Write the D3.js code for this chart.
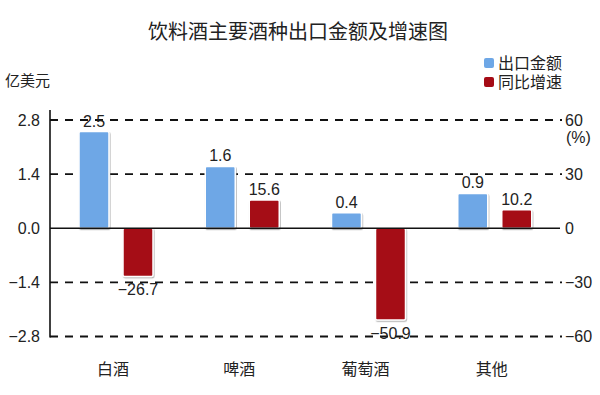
<!DOCTYPE html>
<html>
<head>
<meta charset="utf-8">
<script src="https://cdn.jsdelivr.net/npm/d3@7"></script>
<style>
  body { margin: 0; background: #fff; }
  svg text { font-family: "Liberation Sans", "Noto Sans CJK SC", sans-serif; fill: #222; }
</style>
</head>
<body>
<div id="chart"></div>
<script>
// data
const categories = ["白酒", "啤酒", "葡萄酒", "其他"];
const exportValue = [2.5, 1.6, 0.4, 0.9];      // 亿美元
const growthRate = [-26.7, 15.6, -50.9, 10.2]; // %
const leftTicks = [2.8, 1.4, 0.0, -1.4, -2.8];
const rightTicks = [60, 30, 0, -30, -60];
const seriesNames = ["出口金额", "同比增速"];

const width = 600;
const height = 395;
const margin = {left: 50, right: 45, top: 120, bottom: 58};
const blue = "#6ea7e6";
const red = "#a50b16";

const svg = d3.select("#chart")
  .append("svg")
  .attr("width", width)
  .attr("height", height);

// shadow round the bars
const defs = svg.append("defs");
const f = defs.append("filter").attr("id", "shadow")
  .attr("x", "-20%").attr("y", "-20%").attr("width", "140%").attr("height", "140%");
f.append("feDropShadow")
  .attr("dx", 0.8).attr("dy", 1.2).attr("stdDeviation", 0.7)
  .attr("flood-color", "#888").attr("flood-opacity", 0.6);

// scales
let xScale = d3.scaleBand()
  .domain(categories)
  .range([margin.left, width - margin.right])
  .padding(0);

let yLeft = d3.scaleLinear()
  .domain([-2.8, 2.8])
  .range([height - margin.bottom - 0.5, margin.top]);

let yRight = d3.scaleLinear()
  .domain([-60, 60])
  .range([height - margin.bottom - 0.5, margin.top]);

// title
svg.append("text")
  .attr("x", 298).attr("y", 39)
  .attr("text-anchor", "middle")
  .attr("font-size", "20px")
  .text("饮料酒主要酒种出口金额及增速图");

svg.append("text")
  .attr("x", 5).attr("y", 86)
  .attr("font-size", "15px")
  .text("亿美元");

// legend
const legend = svg.append("g");
[blue, red].forEach((c, i) => {
  legend.append("rect")
    .attr("x", 484).attr("y", 58 + i * 19)
    .attr("width", 10).attr("height", 10).attr("rx", 2)
    .attr("fill", c);
  legend.append("text")
    .attr("x", 498).attr("y", 69 + i * 19)
    .attr("font-size", "16px")
    .text(seriesNames[i]);
});

// gridlines
svg.append("g")
  .selectAll("line")
  .data(leftTicks.filter(d => d !== 0))
  .enter()
  .append("line")
    .attr("x1", margin.left).attr("x2", 562)
    .attr("y1", d => yLeft(d)).attr("y2", d => yLeft(d))
    .attr("stroke", "#111")
    .attr("stroke-width", 1.8)
    .attr("stroke-dasharray", "8,7");

// left axis
const leftAxis = svg.append("g")
  .attr("transform", `translate(${margin.left},0)`)
  .call(d3.axisLeft(yLeft).tickValues(leftTicks).tickSize(0).tickPadding(10)
    .tickFormat(d3.format(".1f")));
leftAxis.select(".domain").remove();
leftAxis.selectAll("text")
  .attr("font-size", "16px")
  .attr("fill", "#222")
  .text(d => d3.format(".1f")(d).replace("-", "−"));
svg.append("line")
  .attr("x1", margin.left).attr("x2", margin.left)
  .attr("y1", 110).attr("y2", yLeft(-2.8) + 1)
  .attr("stroke", "#111").attr("stroke-width", 1.6);

// right axis
const rightAxis = svg.append("g")
  .attr("transform", `translate(565,0)`)
  .call(d3.axisRight(yRight).tickValues(rightTicks).tickSize(0).tickPadding(0));
rightAxis.select(".domain").remove();
rightAxis.selectAll("text")
  .attr("font-size", "16px")
  .attr("fill", "#222")
  .text(d => String(d).replace("-", "−"));
svg.append("text")
  .attr("x", 566).attr("y", yRight(60) + 23)
  .attr("font-size", "16px")
  .text("(%)");

// bars
const blueBars = svg.append("g");
blueBars.selectAll("rect")
  .data(exportValue)
  .enter()
  .append("rect")
    .attr("x", (d, i) => xScale(categories[i]) + 29)
    .attr("y", d => yLeft(Math.max(d, 0)))
    .attr("width", 30)
    .attr("height", d => Math.abs(yLeft(d) - yLeft(0)))
    .attr("rx", 1.5)
    .attr("fill", blue)
    .attr("stroke", "#fff")
    .attr("stroke-width", 1.5)
    .attr("filter", "url(#shadow)");

const redBars = svg.append("g");
redBars.selectAll("rect")
  .data(growthRate)
  .enter()
  .append("rect")
    .attr("x", (d, i) => xScale(categories[i]) + 73)
    .attr("y", d => yRight(Math.max(d, 0)))
    .attr("width", 30)
    .attr("height", d => Math.abs(yRight(d) - yRight(0)))
    .attr("rx", 1.5)
    .attr("fill", red)
    .attr("stroke", "#fff")
    .attr("stroke-width", 1.5)
    .attr("filter", "url(#shadow)");

// zero line
svg.append("line")
  .attr("x1", margin.left).attr("x2", 560)
  .attr("y1", yLeft(0)).attr("y2", yLeft(0))
  .attr("stroke", "#111").attr("stroke-width", 1.6);

// value labels
svg.append("g").selectAll("text")
  .data(exportValue)
  .enter()
  .append("text")
    .attr("x", (d, i) => xScale(categories[i]) + 44)
    .attr("y", d => yLeft(d) - 5)
    .attr("text-anchor", "middle")
    .attr("font-size", "16px")
    .text(d => d.toFixed(1));

svg.append("g").selectAll("text")
  .data(growthRate)
  .enter()
  .append("text")
    .attr("x", (d, i) => xScale(categories[i]) + 88)
    .attr("y", d => d < 0 ? yRight(d) + 19 : yRight(d) - 5)
    .attr("text-anchor", "middle")
    .attr("font-size", "16px")
    .text(d => d.toFixed(1).replace("-", "−"));

// category labels
svg.append("g").selectAll("text")
  .data(categories)
  .enter()
  .append("text")
    .attr("x", d => xScale(d) + xScale.bandwidth() / 2)
    .attr("y", 375)
    .attr("text-anchor", "middle")
    .attr("font-size", "16px")
    .text(d => d);
</script>
</body>
</html>
